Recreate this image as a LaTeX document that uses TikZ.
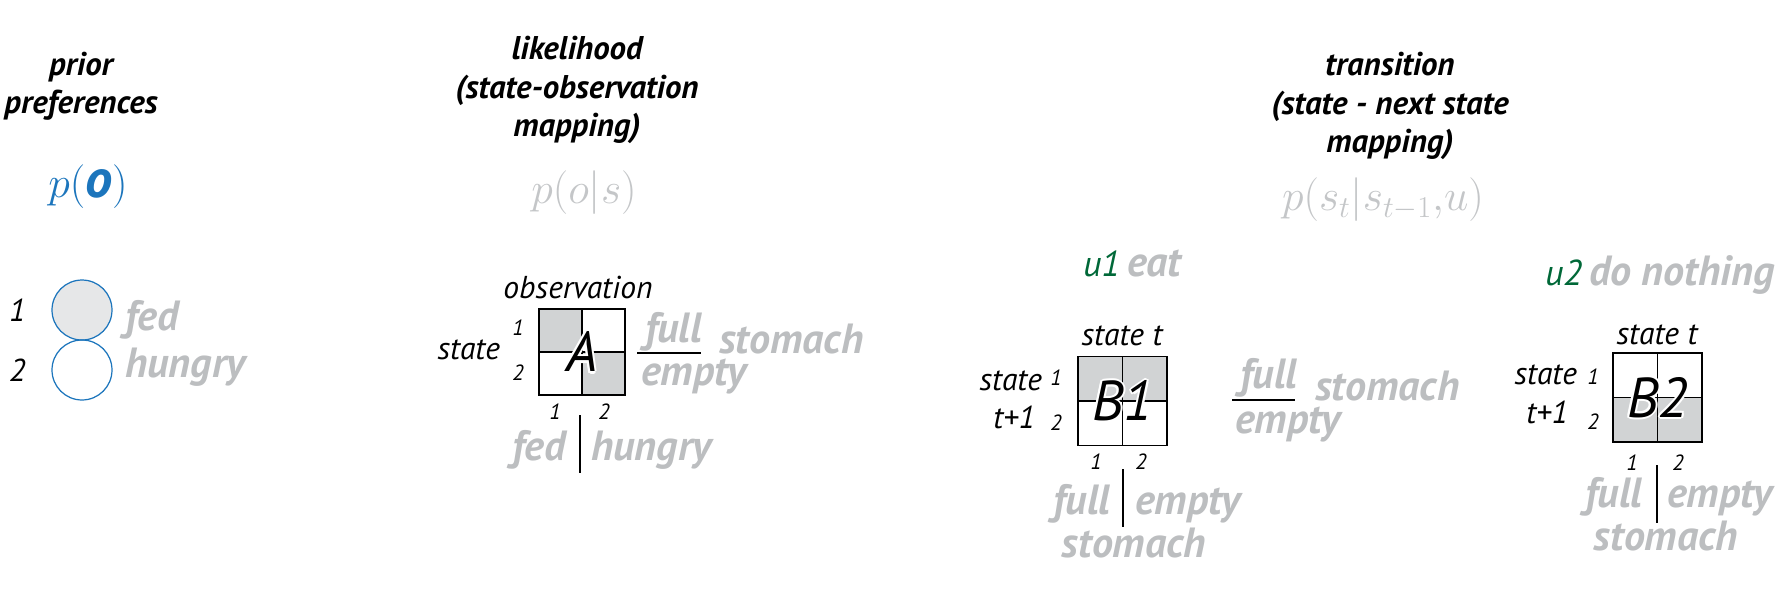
\documentclass[tikz,border=0pt]{standalone}
\usepackage{fontspec}
\setmainfont{PT Sans}
\usepackage{xcolor}
\usetikzlibrary{positioning}
\definecolor{lightgrey}{HTML}{BCBEC0}
\definecolor{formgrey}{HTML}{C4C6C8}
\definecolor{cellgrey}{HTML}{D1D3D4}
\definecolor{ballgrey}{HTML}{E6E7E8}
\definecolor{prefblue}{HTML}{1C75BC}
\definecolor{actgreen}{HTML}{006838}

\begin{document}
\begin{tikzpicture}[x=0.02cm, y=-0.02cm,
  every node/.style = {inner sep=0pt, outer sep=0pt},
  heading/.style = {align=center, font=\fontsize{18.7}{21.8}\selectfont\bfseries\itshape},
  formula/.style = {text=formgrey, font=\fontsize{23.5}{23.5}\selectfont},
  tag/.style = {anchor=base west, text=lightgrey, font=\fontsize{24}{24}\selectfont\bfseries\itshape},
  action/.style = {anchor=base west, text=actgreen, font=\fontsize{20.5}{20.5}\selectfont\itshape},
  axis/.style = {anchor=base west, font=\fontsize{18}{18}\selectfont\itshape},
  axisr/.style = {axis, anchor=base east},
  index/.style = {font=\fontsize{12.5}{12.5}\selectfont\itshape},
  ball/.style = {circle, draw=prefblue, line width=0.7pt, minimum size=1.2cm},
  cell/.style = {draw, line width=0.9pt, minimum size=#1},
  cell/.default = 0.86cm,
  letter/.style = {font=\fontsize{32}{32}\selectfont\itshape},
  divider/.style = {line width=0.6pt}
]
\useasboundingbox (0,0) rectangle (1791,603);

% prior preferences
\node[heading] (prior) at (81,86) {prior\\preferences};
\node[text=prefblue, font=\fontsize{31}{31}\selectfont] (po) at (88,187) {$p($\textbf{\textit{o}}$)$};
\node[ball, fill=ballgrey] (ball1) at (82,310) {};
\node[ball, below=0pt of ball1] (ball2) {};
\node[font=\fontsize{18}{18}\selectfont\itshape, left=15pt of ball1] (one) {1};
\node[font=\fontsize{18}{18}\selectfont\itshape, left=15pt of ball2] (two) {2};
\node[tag] (fed) at (125,330) {fed};
\node[tag] (hungry) at (125,377) {hungry};

% likelihood
\node[heading] (lik) at (577,90) {likelihood\\(state-observation\\mapping)};
\node[formula] (pos) at (584,193) {$p(o|s)$};
\node[cell, fill=cellgrey] (A11) at (560.5,330.5) {};
\node[cell] (A12) at (603.5,330.5) {};
\node[cell] (A21) at (560.5,373.5) {};
\node[cell, fill=cellgrey] (A22) at (603.5,373.5) {};
\coordinate (Acen) at (582,352);
\foreach \dx/\dy [count=\i] in {1.2/0,-1.2/0,0/1.2,0/-1.2,0.85/0.85,-0.85/0.85,0.85/-0.85,-0.85/-0.85}
  \node[letter, text=white, xshift=\dx pt, yshift=\dy pt] (haloA\i) at (Acen) {A};
\node[letter] (A) at (Acen) {A};
\node[axis, anchor=base] (obs) at (578,298) {observation};
\node[axisr] (stateA) at (500,359) {state};
\node[index] (Ar1) at (518,328) {1};
\node[index] (Ar2) at (518,373) {2};
\node[index] (Ac1) at (555,412) {1};
\node[index] (Ac2) at (604,412) {2};
\node[tag] (fullA) at (645,342) {full};
\node[tag] (emptyA) at (641,385) {empty};
\node[tag] (stomA) at (719,353) {stomach};
\coordinate (fracAl) at (637,353);
\coordinate (fracAr) at (701,353);
\draw[divider] (fracAl) -- (fracAr);
\coordinate (barAt) at (580,415);
\coordinate (barAb) at (580,473);
\draw[divider] (barAt) -- (barAb);
\node[tag, anchor=base east] (fedA) at (566,460) {fed};
\node[tag] (hungryA) at (591,460) {hungry};

% transition
\node[heading] (trans) at (1390,106) {transition\\(state - next state\\mapping)};
\node[formula] (pst) at (1383,200) {$p(s_t|s_{t-1}{,}u)$};

% u1: eat
\node[action] (u1) at (1083,276) {u1};
\node[tag] (eat) at (1127,276) {eat};
\node[cell=0.89cm, fill=cellgrey] (B11) at (1100.25,378.75) {};
\node[cell=0.89cm, fill=cellgrey] (B12) at (1144.75,378.75) {};
\node[cell=0.89cm] (B21) at (1100.25,423.25) {};
\node[cell=0.89cm] (B22) at (1144.75,423.25) {};
\coordinate (Bcen) at (1122.5,401);
\foreach \dx/\dy [count=\i] in {1.2/0,-1.2/0,0/1.2,0/-1.2,0.85/0.85,-0.85/0.85,0.85/-0.85,-0.85/-0.85}
  \node[letter, text=white, xshift=\dx pt, yshift=\dy pt] (haloB\i) at (Bcen) {B1};
\node[letter] (B1) at (Bcen) {B1};
\node[axis, anchor=base] (stB1) at (1122,345) {state t};
\node[axisr] (stateB1) at (1042,390) {state};
\node[axisr] (nextB1) at (1035,428) {t+1};
\node[index] (Br1) at (1056,378) {1};
\node[index] (Br2) at (1056,423) {2};
\node[index] (Bc1) at (1096,462) {1};
\node[index] (Bc2) at (1141,462) {2};
\coordinate (barBt) at (1123,469);
\coordinate (barBb) at (1123,527);
\draw[divider] (barBt) -- (barBb);
\node[tag, anchor=base east] (fullB) at (1110,514) {full};
\node[tag] (emptyB) at (1135,514) {empty};
\node[tag, anchor=base] (stomB) at (1134,557) {stomach};

% stomach legend
\node[tag] (fullM) at (1240,388) {full};
\node[tag] (emptyM) at (1235,433) {empty};
\node[tag] (stomM) at (1315,400) {stomach};
\coordinate (fracMl) at (1232,400);
\coordinate (fracMr) at (1295,400);
\draw[divider] (fracMl) -- (fracMr);

% u2: do nothing
\node[action] (u2) at (1545,285) {u2};
\node[tag] (nothing) at (1589,285) {do nothing};
\node[cell=0.89cm] (C11) at (1635.25,375.25) {};
\node[cell=0.89cm] (C12) at (1679.75,375.25) {};
\node[cell=0.89cm, fill=cellgrey] (C21) at (1635.25,419.75) {};
\node[cell=0.89cm, fill=cellgrey] (C22) at (1679.75,419.75) {};
\coordinate (Ccen) at (1657.5,397.5);
\foreach \dx/\dy [count=\i] in {1.2/0,-1.2/0,0/1.2,0/-1.2,0.85/0.85,-0.85/0.85,0.85/-0.85,-0.85/-0.85}
  \node[letter, text=white, xshift=\dx pt, yshift=\dy pt] (haloC\i) at (Ccen) {B2};
\node[letter] (B2) at (Ccen) {B2};
\node[axis, anchor=base] (stB2) at (1657,344) {state t};
\node[axisr] (stateB2) at (1577,384) {state};
\node[axisr] (nextB2) at (1568,423) {t+1};
\node[index] (Cr1) at (1593,377) {1};
\node[index] (Cr2) at (1593,422) {2};
\node[index] (Cc1) at (1632,463) {1};
\node[index] (Cc2) at (1678,463) {2};
\coordinate (barCt) at (1657,465);
\coordinate (barCb) at (1657,523);
\draw[divider] (barCt) -- (barCb);
\node[tag, anchor=base east] (fullC) at (1642,507) {full};
\node[tag] (emptyC) at (1667,507) {empty};
\node[tag, anchor=base] (stomC) at (1666,550) {stomach};
\end{tikzpicture}
\end{document}
